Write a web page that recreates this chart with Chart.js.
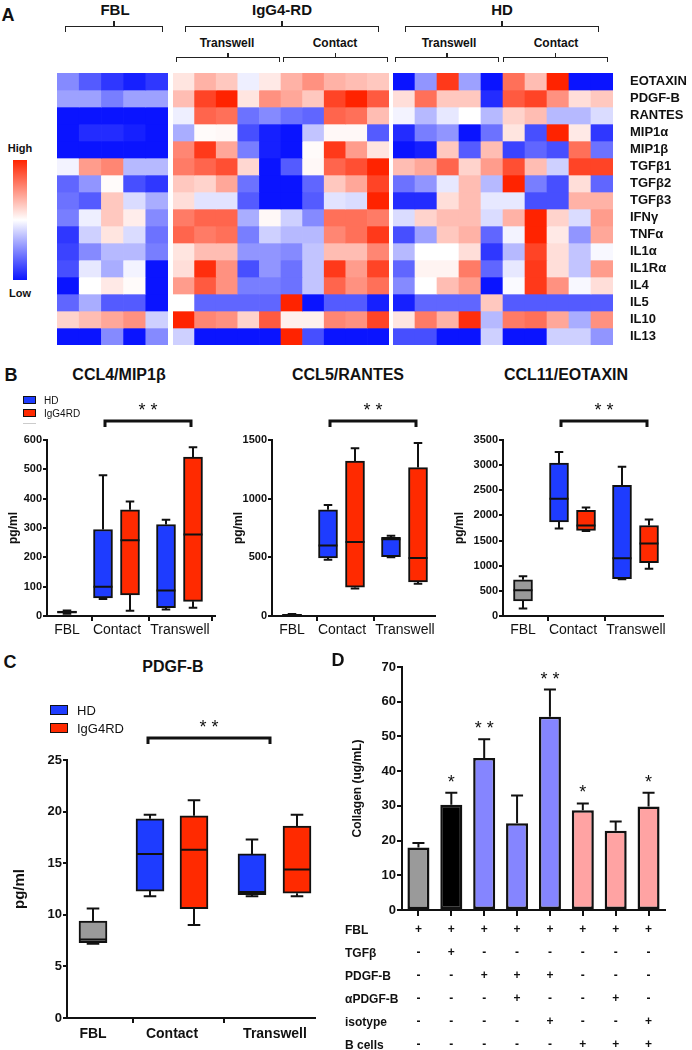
<!DOCTYPE html>
<html>
<head>
<meta charset="utf-8">
<script src="https://cdn.jsdelivr.net/npm/chart.js@4.4.1/dist/chart.umd.min.js"></script>
<style>
  body { margin: 0; background: #fff; }
  #fig { position: relative; width: 692px; height: 1050px; overflow: hidden; background: #fff;
         font-family: 'Liberation Sans', Arial, sans-serif; color: #111; }
  #fig canvas { position: absolute; }
  .t { position: absolute; white-space: nowrap; transform: translate(-50%, -50%); }
  .l { position: absolute; white-space: nowrap; transform: translateY(-50%); }
</style>
</head>
<body>
<div id="fig">
  <canvas id="hmFBL" width="111" height="292" style="left:57px;top:63px"></canvas>
  <canvas id="hmIgG" width="216" height="292" style="left:173px;top:63px"></canvas>
  <canvas id="hmHD" width="299" height="292" style="left:393px;top:63px"></canvas>
  <canvas id="mip" width="225" height="255" style="left:0px;top:395px"></canvas>
  <canvas id="rantes" width="220" height="255" style="left:225px;top:395px"></canvas>
  <canvas id="eotaxin" width="240" height="255" style="left:452px;top:395px"></canvas>
  <canvas id="pdgf" width="330" height="345" style="left:0px;top:705px"></canvas>
  <canvas id="collagen" width="362" height="395" style="left:330px;top:655px"></canvas>
</div>
<script>
// heatmap rows, scaled from low (-1) to high (+1)
const genes = ['EOTAXIN', 'PDGF-B', 'RANTES', 'MIP1α', 'MIP1β', 'TGFβ1', 'TGFβ2', 'TGFβ3',
               'IFNγ', 'TNFα', 'IL1α', 'IL1Rα', 'IL4', 'IL5', 'IL10', 'IL13'];

const heatFBL = [
  [-0.5, -0.7, -0.85, -0.95, -0.85],
  [-0.4, -0.4, -0.55, -0.4, -0.4],
  [-1, -1, -1, -1, -1],
  [-1, -0.9, -0.9, -0.95, -1],
  [-1, -1, -1, -1, -1],
  [-0.05, 0.45, 0.55, -0.3, -0.3],
  [-0.65, -0.45, 0.02, -0.75, -0.85],
  [-0.6, -0.7, 0.25, -0.15, -0.35],
  [-0.55, -0.07, 0.25, 0.08, -0.5],
  [-0.85, -0.2, 0.12, -0.15, -0.6],
  [-0.8, -0.5, -0.3, -0.3, -0.55],
  [-0.75, -0.1, -0.35, -0.05, -1],
  [-1, 0, 0.1, 0.02, -1],
  [-0.65, -0.35, -0.7, -0.7, -1],
  [0.2, 0.3, 0.4, 0.5, -0.2],
  [-1, -1, -0.5, -1, -0.5]
];

// IgG4-RD: 5 transwell then 5 contact
const heatIgG = [
  [0.12, 0.35, 0.25, -0.07, 0.1, 0.35, 0.5, 0.35, 0.3, 0.25],
  [0.3, 0.85, 1.0, 0.12, 0.5, 0.4, 0.25, 0.85, 1.0, 0.75],
  [-0.07, 0.7, 0.65, -0.6, -0.5, -0.6, -0.65, 0.7, 0.65, 0.3],
  [-0.35, 0.02, 0.03, -0.75, -0.95, -1, -0.25, 0.03, 0.03, -0.7],
  [0.55, 0.9, 0.4, -0.55, -0.95, -1, 0.02, 0.9, 0.45, 0.12],
  [0.6, 0.7, 0.8, 0.18, -1, -0.7, 0.03, 0.7, 0.8, 1.0],
  [0.25, 0.2, 0.4, -0.6, -1, -1, -0.65, 0.25, 0.4, 0.85],
  [0.15, -0.12, -0.12, -0.7, -1, -1, -0.7, -0.12, -0.15, 1.0],
  [0.6, 0.7, 0.7, -0.35, 0.03, -0.2, -0.5, 0.65, 0.65, 0.6],
  [0.7, 0.6, 0.65, -0.55, -0.2, -0.3, -0.3, 0.55, 0.65, 0.9],
  [0.12, 0.3, 0.3, -0.45, -0.45, -0.5, -0.25, 0.3, 0.3, 0.55],
  [0.15, 0.95, 0.5, -0.75, -0.45, -0.6, -0.25, 0.9, 0.45, 0.85],
  [0.45, 0.75, 0.5, -0.55, -0.55, -0.6, -0.25, 0.7, 0.5, 0.65],
  [0, -0.65, -0.65, -0.65, -0.65, 1.0, -1, -0.7, -0.7, -0.95],
  [1.0, 0.55, 0.5, 0.2, 0.75, 0.07, 0.07, 0.55, 0.5, 0.85],
  [-0.2, -1, -1, -1, -1, 1.0, -0.75, -1, -1, -1]
];

// HD: 5 transwell then 5 contact
const heatHD = [
  [-1, -0.45, 0.9, -0.4, -1, 0.65, 0.3, 1.0, -1, -1],
  [0.15, 0.65, 0.25, 0.25, -0.9, 0.75, 0.85, 0.5, 0.15, 0.25],
  [-0.05, -0.3, -0.1, 0, -0.3, 0.2, 0.3, -0.3, -0.3, -0.15],
  [-0.9, -0.55, -0.45, -1, -0.6, 0.12, -0.75, 1.0, 0.1, -0.85],
  [-1, -0.95, 0.25, -0.7, 0.3, -0.8, -0.65, -0.75, 0.65, -0.6],
  [0.3, 0.4, 0.7, 0.2, 0.45, 0.8, 0.3, -0.2, 0.85, 0.85],
  [-0.6, -0.45, -0.1, 0.3, -0.3, 1.0, -0.55, -0.75, 0.15, -0.65],
  [-0.9, -0.9, 0.15, 0.3, -0.1, -0.1, -0.75, -0.75, 0.35, 0.35],
  [-0.15, 0.2, 0.3, 0.3, -0.15, 0.35, 1.0, 0.2, -0.15, 0.45],
  [-0.75, -0.4, 0.25, 0.35, -0.65, -0.05, 1.0, 0.1, -0.45, 0.4],
  [-0.3, 0, 0, 0.15, -0.85, -0.3, 0.85, 0.15, -0.25, -0.03],
  [-0.65, 0.05, 0.05, 0.6, -0.65, -0.1, 0.9, 0.15, -0.25, 0.45],
  [-0.5, 0, 0.3, 0.45, -1, -0.02, 0.9, 0.5, -0.03, 0.15],
  [-0.95, -0.65, -0.65, -0.65, 0.25, -0.7, -0.7, -0.7, -0.7, -0.7],
  [0.12, 0.6, 0.35, 0.95, -0.3, 0.6, 0.65, 0.4, -0.35, 0.5],
  [-0.75, -0.75, -1, -1, -0.2, -1, -1, -0.2, -0.2, -0.45]
];

// box plots: [min, q1, median, q3, max]; HD / IgG4RD as [contact, transwell]
const groupNames = ['FBL', 'Contact', 'Transwell'];
const mipFBL = [8, 10, 14, 17, 19];
const mipHD = [[58, 62, 100, 295, 480], [22, 28, 87, 312, 328]];
const mipIgG = [[18, 72, 258, 362, 390], [28, 50, 278, 542, 575]];
const rantesFBL = [0, 2, 8, 14, 18];
const rantesHD = [[480, 495, 600, 905, 945], [500, 505, 655, 670, 685]];
const rantesIgG = [[235, 245, 630, 1320, 1430], [275, 290, 495, 1265, 1475]];
const eotaxinFBL = [150, 300, 510, 720, 790];
const eotaxinHD = [[1740, 1870, 2330, 3040, 3260], [730, 740, 1150, 2600, 2970]];
const eotaxinIgG = [[1690, 1700, 1800, 2100, 2160], [940, 1060, 1440, 1800, 1920]];
const pdgfFBL = [7.2, 7.3, 7.6, 9.4, 10.6];
const pdgfHD = [[11.8, 12.3, 15.9, 19.3, 19.7], [11.8, 11.95, 12.2, 15.9, 17.3]];
const pdgfIgG = [[9.0, 10.6, 16.3, 19.6, 21.1], [11.8, 12.1, 14.4, 18.6, 19.7]];

// collagen bar chart
const conditions = ['FBL', 'TGFβ', 'PDGF-B', 'PDGF-B+αPDGF-B', 'PDGF-B+isotype',
                    'B cells', 'B cells+αPDGF-B', 'B cells+isotype'];
const collagenMean = [18, 30.3, 43.8, 25, 55.7, 28.7, 22.8, 29.8];
const collagenSem = [1.3, 3.5, 5.4, 8, 7.8, 2, 2.7, 4];
const collagenStars = ['', '*', '* *', '', '* *', '*', '', '*'];
const tableRows = ['FBL', 'TGFβ', 'PDGF-B', 'αPDGF-B', 'isotype', 'B cells'];
const tableSigns = [
  ['+', '+', '+', '+', '+', '+', '+', '+'],
  ['-', '+', '-', '-', '-', '-', '-', '-'],
  ['-', '-', '+', '+', '+', '-', '-', '-'],
  ['-', '-', '-', '+', '-', '-', '+', '-'],
  ['-', '-', '-', '-', '+', '-', '-', '+'],
  ['-', '-', '-', '-', '-', '+', '+', '+']
];

const BLUE = '#1e3cff', RED = '#ff2a00', GRAY = '#9a9a9a', INK = '#111';
const FONT = "'Liberation Sans', Arial, sans-serif";
Chart.defaults.font.family = FONT;
Chart.defaults.color = INK;

const fig = document.getElementById('fig');
function text(str, x, y, css, cls) {
  const d = document.createElement('div');
  d.className = cls || 't';
  d.textContent = str;
  d.style.left = x + 'px';
  d.style.top = y + 'px';
  d.style.font = css;
  fig.appendChild(d);
}
function box(x, y, w, h, css) {
  const d = document.createElement('div');
  d.style.cssText = `position:absolute;left:${x}px;top:${y}px;width:${w}px;height:${h}px;` + css;
  fig.appendChild(d);
}
function bracket(x1, x2, y, drop, up) {
  box(x1, y, x2 - x1, drop, 'border:1.5px solid #222;border-bottom:none;box-sizing:border-box');
  box((x1 + x2) / 2 - 0.75, y - up, 1.5, up, 'background:#222');
}

function heatColor(v) {
  if (v < 0) {
    const k = -v;
    return `rgb(${Math.round(255 - 245 * k)},${Math.round(255 - 235 * k)},255)`;
  }
  return `rgb(255,${Math.round(255 - 220 * v)},${Math.round(255 - 255 * v)})`;
}

// whiskers, caps and medians drawn on top of the floating bars
const boxWhiskers = {
  id: 'boxWhiskers',
  afterDatasetsDraw(chart) {
    const ctx = chart.ctx, y = chart.scales.y;
    chart.data.datasets.forEach((ds, i) => {
      if (!ds.stats) return;
      chart.getDatasetMeta(i).data.forEach((bar, j) => {
        const [mn, q1, md, q3, mx] = ds.stats[j].map(v => y.getPixelForValue(v));
        const cap = bar.width * 0.45, half = bar.width / 2;
        ctx.save();
        ctx.strokeStyle = INK;
        ctx.lineWidth = 2;
        ctx.beginPath();
        ctx.moveTo(bar.x, q3); ctx.lineTo(bar.x, mx);
        ctx.moveTo(bar.x - cap / 2, mx); ctx.lineTo(bar.x + cap / 2, mx);
        ctx.moveTo(bar.x, q1); ctx.lineTo(bar.x, mn);
        ctx.moveTo(bar.x - cap / 2, mn); ctx.lineTo(bar.x + cap / 2, mn);
        ctx.moveTo(bar.x - half, md); ctx.lineTo(bar.x + half, md);
        ctx.stroke();
        ctx.restore();
      });
    });
  }
};

// significance bracket above the plot area
const sigBar = {
  id: 'sigBar',
  afterDraw(chart, args, o) {
    if (!o.label) return;
    const ctx = chart.ctx, x = chart.scales.x;
    const x1 = x.getPixelForValue(o.from), x2 = x.getPixelForValue(o.to);
    const yb = chart.chartArea.top - o.dy;
    ctx.save();
    ctx.strokeStyle = INK;
    ctx.lineWidth = 3;
    ctx.beginPath();
    ctx.moveTo(x1, yb + 6); ctx.lineTo(x1, yb); ctx.lineTo(x2, yb); ctx.lineTo(x2, yb + 6);
    ctx.stroke();
    ctx.fillStyle = INK;
    ctx.font = '18px ' + FONT;
    ctx.textAlign = 'center';
    ctx.textBaseline = 'middle';
    ctx.fillText(o.label, (x1 + x2) / 2, yb - 10);
    ctx.restore();
  }
};

// error bars (upper only) and stars for the collagen bars
const errStars = {
  id: 'errStars',
  afterDatasetsDraw(chart, args, o) {
    if (!o.sem) return;
    const ctx = chart.ctx, y = chart.scales.y;
    const vals = chart.data.datasets[0].data;
    chart.getDatasetMeta(0).data.forEach((bar, i) => {
      const top = y.getPixelForValue(vals[i] + o.sem[i]);
      ctx.save();
      ctx.strokeStyle = INK;
      ctx.lineWidth = 2;
      ctx.beginPath();
      ctx.moveTo(bar.x, bar.y); ctx.lineTo(bar.x, top);
      ctx.moveTo(bar.x - 6, top); ctx.lineTo(bar.x + 6, top);
      ctx.stroke();
      if (o.stars[i]) {
        ctx.fillStyle = INK;
        ctx.font = '18px ' + FONT;
        ctx.textAlign = 'center';
        ctx.textBaseline = 'middle';
        ctx.fillText(o.stars[i], bar.x, top - 10);
      }
      ctx.restore();
    });
  }
};
Chart.register(boxWhiskers, sigBar, errStars);

const base = {
  animation: false,
  responsive: false,
  devicePixelRatio: 1,
  events: []
};

function heatChart(id, rows, withLabels) {
  const scales = {
    x: { stacked: true, display: false },
    y: { stacked: true, display: false, min: 0, max: genes.length, reverse: true }
  };
  if (withLabels) {
    scales.g = {
      type: 'category', labels: genes, position: 'right', offset: true,
      grid: { display: true, drawOnChartArea: false, drawTicks: true, tickLength: 15, color: 'rgba(0,0,0,0)' },
      border: { display: false },
      ticks: { font: { size: 13, weight: 'bold' }, color: INK, padding: 2, autoSkip: false },
      afterFit(a) { a.width = 79; }
    };
  }
  new Chart(document.getElementById(id), {
    type: 'bar',
    data: {
      labels: rows[0].map((_, i) => i + 1),
      datasets: rows.map((row, r) => ({
        label: genes[r],
        data: row.map(() => 1),
        backgroundColor: row.map(heatColor),
        borderWidth: 0,
        barPercentage: 1,
        categoryPercentage: 1
      }))
    },
    options: Object.assign({}, base, {
      layout: { padding: { top: 10, bottom: 10, left: 0, right: 0 } },
      plugins: { legend: { display: false }, tooltip: { enabled: false } },
      scales
    })
  });
}

function boxSet(label, xs, stats, color, w) {
  return {
    label,
    data: xs.map((x, i) => ({ x, y: [stats[i][1], stats[i][3]] })),
    stats,
    backgroundColor: color,
    borderColor: INK,
    borderWidth: 2,
    borderSkipped: false,
    grouped: false,
    barThickness: w
  };
}

function boxChart(id, p) {
  new Chart(document.getElementById(id), {
    type: 'bar',
    data: {
      datasets: [
        boxSet('FBL', [p.pos[0]], [p.fbl], GRAY, p.w),
        boxSet('HD', [p.pos[1], p.pos[3]], p.hd, BLUE, p.w),
        boxSet('IgG4RD', [p.pos[2], p.pos[4]], p.igg, RED, p.w)
      ]
    },
    options: Object.assign({}, base, {
      layout: { padding: { top: p.padTop, right: p.padRight, left: 0, bottom: 0 } },
      plugins: {
        legend: { display: false }, tooltip: { enabled: false },
        sigBar: { label: '* *', from: p.sig[0], to: p.sig[1], dy: p.sig[2] }
      },
      scales: {
        x: {
          type: 'linear', min: 0, max: p.xmax, offset: false,
          afterBuildTicks(a) { a.ticks = p.ticks.map(v => ({ value: v })); },
          ticks: { callback: (v, i) => groupNames[i], font: { size: p.xFont, weight: p.xWeight },
                   color: INK, padding: p.xPad, maxRotation: 0, autoSkip: false },
          grid: { drawOnChartArea: false, tickLength: 5, color: INK, lineWidth: 2 },
          border: { color: INK, width: 2 },
          afterFit(a) { a.height = p.xh; }
        },
        y: {
          min: 0, max: p.ymax,
          ticks: { stepSize: p.step, callback: v => v, font: { size: p.yFont, weight: 'bold' },
                   color: INK, padding: 1 },
          grid: { drawOnChartArea: false, tickLength: 4, color: INK, lineWidth: 2 },
          border: { color: INK, width: 2 },
          title: { display: true, text: 'pg/ml', font: { size: p.titleFont, weight: 'bold' },
                   color: INK, padding: { top: p.titlePad, bottom: 0 } },
          afterFit(a) { a.width = p.yw; }
        }
      }
    })
  });
}

// ---- panel A ----
text('A', 8, 15, 'bold 18px ' + FONT);
text('FBL', 115, 9, 'bold 15px ' + FONT);
text('IgG4-RD', 282, 9, 'bold 15px ' + FONT);
text('HD', 502, 9, 'bold 15px ' + FONT);
bracket(65, 163, 26, 6, 5);
bracket(185, 379, 26, 6, 5);
bracket(405, 599, 26, 6, 5);
[['Transwell', 227], ['Contact', 335], ['Transwell', 449], ['Contact', 556]].forEach(([s, x]) =>
  text(s, x, 43, 'bold 12px ' + FONT));
bracket(176, 280, 57, 5, 4);
bracket(283, 388, 57, 5, 4);
bracket(395, 499, 57, 5, 4);
bracket(503, 608, 57, 5, 4);
box(13, 160, 14, 120, 'background:linear-gradient(to bottom,#ff2300,#ffffff 50%,#0a14ff)');
text('High', 20, 148, 'bold 11px ' + FONT);
text('Low', 20, 293, 'bold 11px ' + FONT);

heatChart('hmFBL', heatFBL, false);
heatChart('hmIgG', heatIgG, false);
heatChart('hmHD', heatHD, true);

// ---- panel B ----
text('B', 11, 375, 'bold 18px ' + FONT);
text('CCL4/MIP1β', 119, 375, 'bold 16px ' + FONT);
text('CCL5/RANTES', 348, 375, 'bold 16px ' + FONT);
text('CCL11/EOTAXIN', 566, 375, 'bold 16px ' + FONT);
box(23, 396, 13, 8, `background:${BLUE};border:1.5px solid #111;box-sizing:border-box`);
box(23, 409, 13, 8, `background:${RED};border:1.5px solid #111;box-sizing:border-box`);
box(23, 423, 13, 1, 'background:#ccc');
text('HD', 44, 400, '10px ' + FONT, 'l');
text('IgG4RD', 44, 413, '10px ' + FONT, 'l');

const bLayout = { pos: [1, 2.8, 4.15, 5.95, 7.3], ticks: [1, 3.5, 6.65], w: 19, padTop: 45, xh: 34,
                  xFont: 14, xWeight: 'normal', xPad: 1, yFont: 11, titleFont: 12, sig: [2.9, 7.2, 19] };
boxChart('mip', Object.assign({}, bLayout, {
  fbl: mipFBL, hd: mipHD, igg: mipIgG, ymax: 600, step: 100, xmax: 8.4, yw: 47, padRight: 10, titlePad: 6 }));
boxChart('rantes', Object.assign({}, bLayout, {
  fbl: rantesFBL, hd: rantesHD, igg: rantesIgG, ymax: 1500, step: 500, xmax: 8.15, yw: 47, padRight: 10, titlePad: 6 }));
boxChart('eotaxin', Object.assign({}, bLayout, {
  fbl: eotaxinFBL, hd: eotaxinHD, igg: eotaxinIgG, ymax: 3500, step: 500, xmax: 8.0, yw: 51, padRight: 29, titlePad: 0 }));

// ---- panel C ----
text('C', 10, 662, 'bold 18px ' + FONT);
text('PDGF-B', 173, 667, 'bold 16px ' + FONT);
box(50, 705, 18, 10, `background:${BLUE};border:1.5px solid #111;box-sizing:border-box`);
box(50, 723, 18, 10, `background:${RED};border:1.5px solid #111;box-sizing:border-box`);
text('HD', 77, 710, '13px ' + FONT, 'l');
text('IgG4RD', 77, 728, '13px ' + FONT, 'l');
boxChart('pdgf', {
  fbl: pdgfFBL, hd: pdgfHD, igg: pdgfIgG, ymax: 25, step: 5,
  pos: [1.3, 4.15, 6.35, 9.25, 11.5], ticks: [1.3, 5.25, 10.4], xmax: 12.4, w: 28,
  padTop: 55, padRight: 15, xh: 32, yw: 67, xFont: 14, xWeight: 'bold', xPad: 3,
  yFont: 13, titleFont: 15, titlePad: 11, sig: [4.05, 10.15, 22]
});

// ---- panel D ----
text('D', 338, 660, 'bold 18px ' + FONT);
tableRows.forEach((r, i) => text(r, 345, 930 + i * 23, 'bold 12px ' + FONT, 'l'));
new Chart(document.getElementById('collagen'), {
  type: 'bar',
  data: {
    labels: conditions,
    datasets: [{
      data: collagenMean,
      backgroundColor: [GRAY, '#000', '#8585ff', '#8585ff', '#8585ff', '#ffa3a3', '#ffa3a3', '#ffa3a3'],
      borderColor: INK,
      borderWidth: 2.5,
      borderSkipped: false,
      barPercentage: 0.67,
      categoryPercentage: 1
    }]
  },
  options: Object.assign({}, base, {
    layout: { padding: { top: 12, right: 27, left: 0, bottom: 0 } },
    plugins: {
      legend: { display: false }, tooltip: { enabled: false },
      errStars: { sem: collagenSem, stars: collagenStars }
    },
    scales: {
      x: {
        ticks: { callback: (v, i) => tableSigns.map(r => r[i]), font: { size: 12, weight: 'bold', lineHeight: 23 / 12 },
                 color: INK, padding: 2, maxRotation: 0, autoSkip: false },
        grid: { drawOnChartArea: false, offset: false, tickLength: 6, color: INK, lineWidth: 2 },
        border: { color: INK, width: 2 },
        afterFit(a) { a.height = 140; }
      },
      y: {
        min: 0, max: 70,
        ticks: { stepSize: 10, font: { size: 13, weight: 'bold' }, color: INK, padding: 1 },
        grid: { drawOnChartArea: false, tickLength: 5, color: INK, lineWidth: 2 },
        border: { color: INK, width: 2 },
        title: { display: true, text: 'Collagen (ug/mL)', font: { size: 12, weight: 'bold' },
                 color: INK, padding: { top: 20, bottom: 0 } },
        afterFit(a) { a.width = 72; }
      }
    }
  })
});
</script>
</body>
</html>
